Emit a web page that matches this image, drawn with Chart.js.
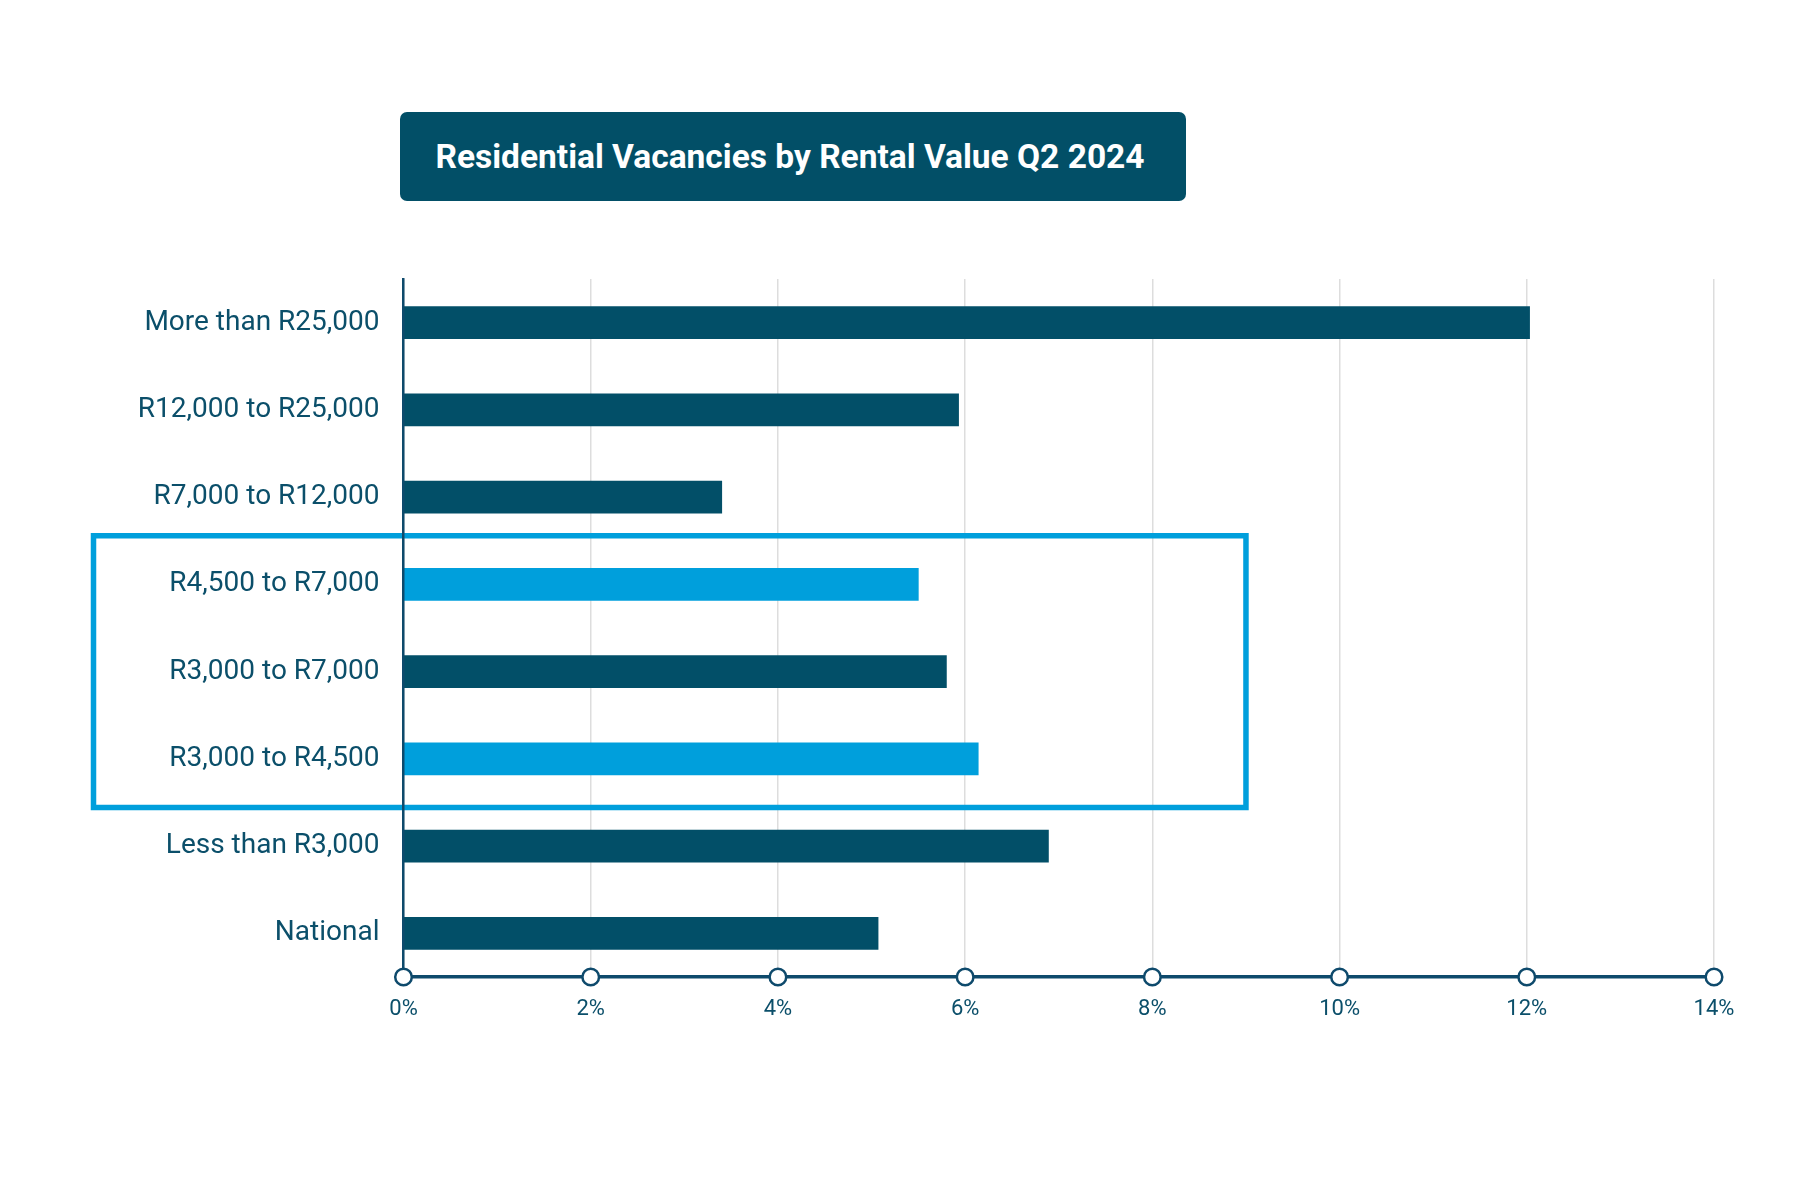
<!DOCTYPE html>
<html>
<head>
<meta charset="utf-8">
<title>Residential Vacancies by Rental Value Q2 2024</title>
<script src="https://cdn.jsdelivr.net/npm/chart.js@4.4.1/dist/chart.umd.min.js"></script>
<style>
    html, body { margin: 0; padding: 0; background: #ffffff; }
    #wrap { position: relative; width: 1817px; height: 1188px; }
    #chartTitle {
        position: absolute;
        left: 400px; top: 112px;
        width: 786px; height: 89px;
        background: #024f67;
        border-radius: 7px;
        color: #ffffff;
        font-family: Roboto, "Noto Sans", sans-serif;
        font-weight: 700;
        font-size: 33.5px;
        line-height: 89px;
        text-align: center;
        box-sizing: border-box;
        padding-right: 6px;
    }
</style>
</head>
<body>
<div id="wrap">
    <canvas id="vacancyChart"></canvas>
    <div id="chartTitle">Residential Vacancies by Rental Value Q2 2024</div>
</div>
<script>
// =====================================================
// Data
// =====================================================
const categories = [
    'More than R25,000',
    'R12,000 to R25,000',
    'R7,000 to R12,000',
    'R4,500 to R7,000',
    'R3,000 to R7,000',
    'R3,000 to R4,500',
    'Less than R3,000',
    'National'
];
const vacancyRates = [12.03, 5.93, 3.40, 5.50, 5.80, 6.14, 6.89, 5.07]; // percent
const highlighted = [false, false, false, true, false, true, false, false];
const xTicks = [0, 2, 4, 6, 8, 10, 12, 14];

// Highlight box: covers categories 3..5, right edge at 9%
const boxFromIndex = 3;
const boxToIndex = 5;
const boxRightValue = 9;

const DARK = '#024f68';
const LIGHT = '#009fdc';
const TEXT = '#0b4f6a';
const AXIS = '#0e4a6c';

// =====================================================
// Draws the highlight frame around the bracketed rows
// =====================================================
const highlightBox = {
    id: 'highlightBox',
    beforeDatasetsDraw(chart) {
        const { ctx, scales: { x, y } } = chart;
        const top = y.getPixelForValue(boxFromIndex - 0.5) - 5;
        const bottom = y.getPixelForValue(boxToIndex + 0.5) + 5;
        const left = chart.chartArea.left - 310;
        const right = x.getPixelForValue(boxRightValue);
        ctx.save();
        ctx.strokeStyle = LIGHT;
        ctx.lineWidth = 5.5;
        ctx.strokeRect(left, top, right - left, bottom - top);
        ctx.restore();
    }
};

// =====================================================
// Hollow circles on the x axis at every tick
// =====================================================
const tickDots = {
    id: 'tickDots',
    afterDraw(chart) {
        const { ctx, scales: { x } } = chart;
        ctx.save();
        ctx.fillStyle = '#ffffff';
        ctx.strokeStyle = AXIS;
        ctx.lineWidth = 2.5;
        x.ticks.forEach(t => {
            const px = x.getPixelForValue(t.value);
            ctx.beginPath();
            ctx.arc(px, x.top, 8.3, 0, Math.PI * 2);
            ctx.fill();
            ctx.stroke();
        });
        ctx.restore();
    }
};

const ctx = document.getElementById('vacancyChart').getContext('2d');
new Chart(ctx, {
    type: 'bar',
    data: {
        labels: categories,
        datasets: [{
            data: vacancyRates,
            backgroundColor: highlighted.map(h => h ? LIGHT : DARK),
            borderWidth: 0,
            barThickness: 32
        }]
    },
    options: {
        indexAxis: 'y',
        responsive: true,
        maintainAspectRatio: false,
        animation: false,
        devicePixelRatio: 1,
        layout: {
            padding: { left: 0, top: 279, right: 103, bottom: 151 }
        },
        plugins: {
            legend: { display: false },
            tooltip: { enabled: false },
            title: { display: false }
        },
        scales: {
            x: {
                type: 'linear',
                min: 0,
                max: 14,
                afterBuildTicks: scale => {
                    scale.ticks = xTicks.map(v => ({ value: v }));
                },
                afterFit: scale => { scale.height = 60; },
                grid: {
                    color: '#dddddd',
                    lineWidth: 1.5,
                    drawTicks: false
                },
                border: { display: true, color: AXIS, width: 3.5 },
                ticks: {
                    padding: 19,
                    color: TEXT,
                    font: { family: 'Roboto', size: 22 },
                    callback: v => v + '%'
                }
            },
            y: {
                afterFit: scale => { scale.width = 403.5; },
                grid: { display: false, drawTicks: false },
                border: { display: true, color: AXIS, width: 2.5, z: 1 },
                ticks: {
                    padding: 24,
                    color: TEXT,
                    font: { family: 'Roboto', size: 28 }
                }
            }
        }
    },
    plugins: [highlightBox, tickDots]
});
</script>
</body>
</html>
